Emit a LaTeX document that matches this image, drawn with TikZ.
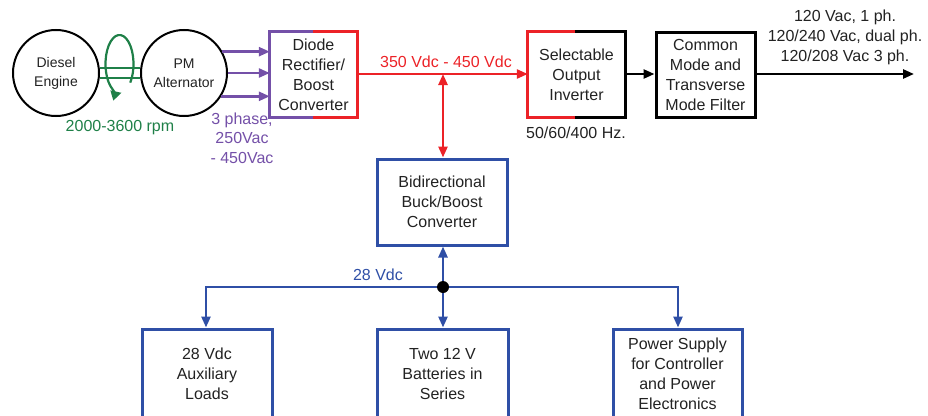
\documentclass[tikz,border=0pt]{standalone}
\usepackage{fontspec}
\setmainfont{Liberation Sans}
\usetikzlibrary{arrows.meta,calc}
\definecolor{cred}{HTML}{EC2227}
\definecolor{cpur}{HTML}{7450A8}
\definecolor{cblue}{HTML}{2F4FA6}
\definecolor{cgreen}{HTML}{1F8048}
\definecolor{ctext}{HTML}{222222}
\tikzset{
  lbl/.style={font=\fontsize{16}{20}\selectfont, align=center, inner sep=0pt},
  boxtxt/.style={lbl, text=ctext},
  cbox/.style={rectangle, inner sep=0pt, boxtxt},
  bluebox/.style={cbox, draw=cblue, line width=3pt},
  circ/.style={circle, draw=black, line width=2pt, minimum size=86pt, inner sep=0pt,
    font=\fontsize{14}{19}\selectfont, align=center, text=ctext},
  wire/.style={line width=2.5pt},
  tip/.style={wire, -{Triangle[length=11pt,width=9pt]}},
  dtip/.style={wire, {Triangle[length=11pt,width=9pt]}-{Triangle[length=11pt,width=9pt]}},
}
\begin{document}
\begin{tikzpicture}[x=1pt,y=-1pt]
\useasboundingbox (0,0) rectangle (928,415);
\clip (0,0) rectangle (928,415);

% circles
\node[circ] (die) at (56,73) {Diesel\\Engine};
\node[circ] (alt) at (184,73) {PM\\Alternator};

% green shaft and rotation
\draw[cgreen, line width=2.2pt] (die.7) -- (alt.173);
\draw[cgreen, line width=2.2pt] (die.-7) -- (alt.-173);
\coordinate (rot) at (119.5,64);
\draw[cgreen, line width=2.2pt, -{Triangle[length=10pt,width=10pt]}]
  ($(rot)+(40:14 and 29)$) arc[start angle=40, end angle=-278, x radius=14, y radius=29];
\node[lbl, text=cgreen] (rpm) at (120,128) {2000-3600 rpm};

% diode rectifier box
\node[cbox, minimum width=87pt, minimum height=85pt] (dio) at (313.5,74.5) {Diode\\Rectifier/\\Boost\\Converter};
\draw[cpur, line width=3pt] ($(dio.north west)+(43,0)$) -- (dio.north west) -- (dio.south west) -- ($(dio.south west)+(43,0)$);
\draw[cred, line width=3pt] ($(dio.north west)+(43,0)$) -- (dio.north east) -- (dio.south east) -- ($(dio.south west)+(43,0)$);

% purple arrows
\draw[cpur, tip] (alt.29) -- (alt.29 -| dio.west);
\draw[cpur, tip] (alt.east) -- (alt.east -| dio.west);
\draw[cpur, tip] (alt.-32) -- (alt.-32 -| dio.west);
\node[lbl, text=cpur, font=\fontsize{16}{19.5}\selectfont] (ph) at (242,138) {3 phase,\\250Vac\\- 450Vac};

% inverter
\node[cbox, minimum width=97pt, minimum height=85pt] (inv) at (576.5,74.5) {Selectable\\Output\\Inverter};
\draw[cred, line width=3pt] ($(inv.north west)+(47,0)$) -- (inv.north west) -- (inv.south west) -- ($(inv.south west)+(47,0)$);
\draw[black, line width=3pt] ($(inv.north west)+(47,0)$) -- (inv.north east) -- (inv.south east) -- ($(inv.south west)+(47,0)$);
\node[lbl, text=ctext] (hz) at (576,133) {50/60/400 Hz.};

% filter
\node[cbox, draw=black, line width=3pt, minimum width=99pt, minimum height=85pt] (fil) at (705.5,74.5) {Common\\Mode and\\Transverse\\Mode Filter};

% red DC bus
\draw[cred, tip] (dio.east |- 0,74) -- (inv.west |- 0,74);
\node[lbl, text=cred] (vdc) at (446,62) {350 Vdc - 450 Vdc};

% bidirectional converter
\node[bluebox, minimum width=130pt, minimum height=86pt] (bid) at (442,202) {Bidirectional\\Buck/Boost\\Converter};
\coordinate (rj) at (443,74);
\draw[cred, dtip] (rj) -- (rj |- bid.north);

% output
\draw[black, tip] (inv.east |- 0,74) -- (fil.west |- 0,74);
\coordinate (out) at (914,74);
\draw[black, tip] (fil.east |- 0,74) -- (out);
\node[lbl, text=ctext] (outtxt) at (845,37) {120 Vac, 1 ph.\\120/240 Vac, dual ph.\\120/208 Vac 3 ph.};

% low-voltage bus
\node[bluebox, minimum width=130pt, minimum height=90pt] (aux) at (207,374) {28 Vdc\\Auxiliary\\Loads};
\node[bluebox, minimum width=131pt, minimum height=90pt] (bat) at (442.5,374) {Two 12 V\\Batteries in\\Series};
\node[bluebox, minimum width=129pt, minimum height=90pt] (psu) at (677.5,374) {Power Supply\\for Controller\\and Power\\Electronics};

\coordinate (bj) at (443,287);
\coordinate (bl) at (206,287);
\coordinate (br) at (678,287);
\draw[cblue, wire, line cap=rect] (bl) -- (br);
\draw[cblue, tip] (bj) -- (bj |- bid.south);
\draw[cblue, tip] (bl) -- (bl |- aux.north);
\draw[cblue, tip] (bj) -- (bj |- bat.north);
\draw[cblue, tip] (br) -- (br |- psu.north);
\fill[black] (bj) circle (6);
\node[lbl, text=cblue] (v28) at (378,275) {28 Vdc};
\end{tikzpicture}
\end{document}
